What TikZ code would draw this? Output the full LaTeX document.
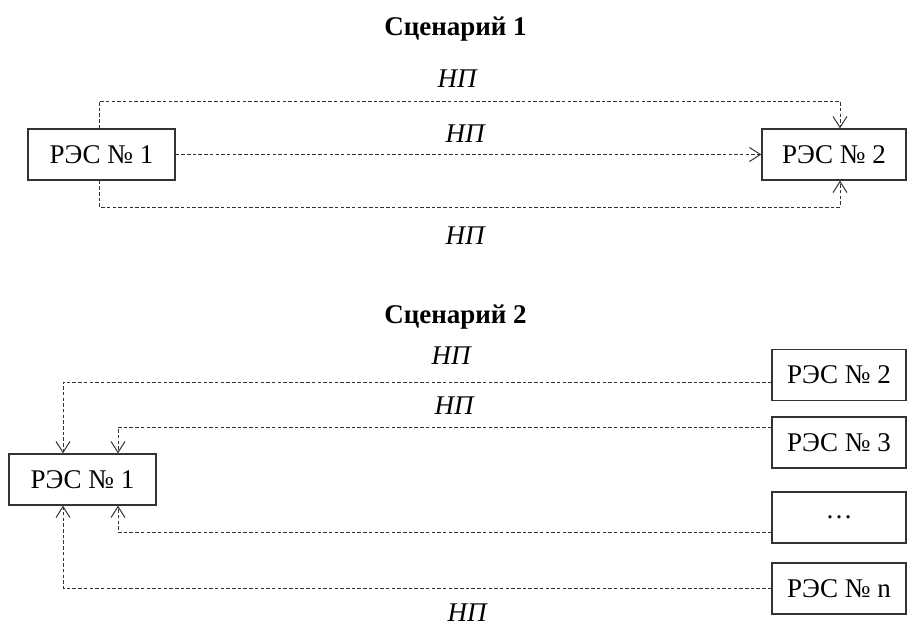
\documentclass[tikz,border=0pt]{standalone}
\usepackage{fontspec}
\setmainfont{Liberation Serif}
\usetikzlibrary{arrows.meta}

\tikzset{
  res/.style={draw=black!80, line width=1.3pt, inner sep=0pt, minimum height=51pt,
    font=\fontsize{27}{30}\selectfont},
  link/.style={draw=black!80, line width=0.9pt, dash pattern=on 3.5pt off 2.2pt,
    -{Straight Barb[length=11pt,width=14pt,line width=1pt]}},
  lbl/.style={inner sep=0pt, anchor=base, font=\fontsize{27}{30}\selectfont\itshape},
  ttl/.style={inner sep=0pt, anchor=base, font=\fontsize{27}{30}\selectfont\bfseries}
}

\begin{document}
\begin{tikzpicture}[x=1pt, y=-1pt]
\useasboundingbox (0,0) rectangle (907,627);

% ---------- Сценарий 1 ----------
\node[ttl] (t1) at (455.5,35) {Сценарий 1};

\node[res, minimum width=147pt] (s1a) at (101.5,154.5) {РЭС № 1};
\node[res, minimum width=144pt] (s1b) at (834,154.5) {РЭС № 2};

\coordinate (s1ta) at (99,101);
\coordinate (s1tb) at (840,101);
\coordinate (s1ba) at (99,207);
\coordinate (s1bb) at (840,207);

\draw[link] (s1a.north -| s1ta) -- (s1ta) -- (s1tb) -- (s1tb |- s1b.north);
\draw[link] (s1a.east) -- (s1b.west);
\draw[link] (s1a.south -| s1ba) -- (s1ba) -- (s1bb) -- (s1bb |- s1b.south);

\node[lbl] (l1) at (457,87) {НП};
\node[lbl] (l2) at (465,142) {НП};
\node[lbl] (l3) at (465,244) {НП};

% ---------- Сценарий 2 ----------
\node[ttl] (t2) at (455.5,323) {Сценарий 2};

\node[res, minimum width=147pt] (c1) at (82.5,479.5) {РЭС № 1};
\node[res, minimum width=134pt] (c2) at (839,375) {РЭС № 2};
\node[res, minimum width=134pt] (c3) at (839,442.5) {РЭС № 3};
\node[res, minimum width=134pt] (cd) at (839,517.5) {\dots};
\node[res, minimum width=134pt] (cn) at (839,588.5) {РЭС № n};

\coordinate (k2) at (63,382);
\coordinate (k3) at (118,427);
\coordinate (kd) at (118,532);
\coordinate (kn) at (63,588);

\draw[link] (k2 -| c2.west) -- (k2) -- (k2 |- c1.north);
\draw[link] (k3 -| c3.west) -- (k3) -- (k3 |- c1.north);
\draw[link] (kd -| cd.west) -- (kd) -- (kd |- c1.south);
\draw[link] (kn -| cn.west) -- (kn) -- (kn |- c1.south);

\node[lbl] (m1) at (451,364) {НП};
\node[lbl] (m2) at (454,414) {НП};
\node[lbl] (m3) at (467,621) {НП};
\end{tikzpicture}
\end{document}
